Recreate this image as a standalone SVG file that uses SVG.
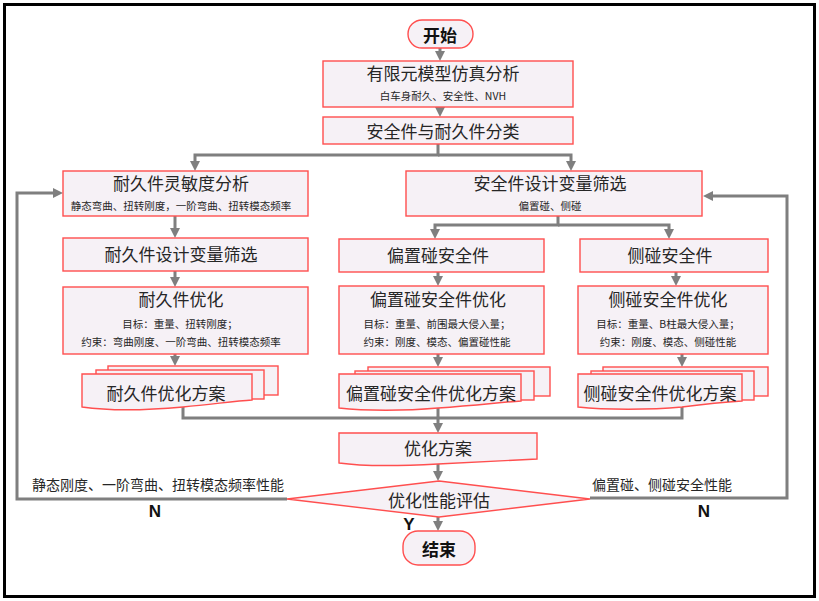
<svg xmlns="http://www.w3.org/2000/svg" width="819" height="601" viewBox="0 0 819 601">
<defs>
<marker id="ah" viewBox="0 0 10 10" refX="6" refY="5" markerWidth="10" markerHeight="10" markerUnits="userSpaceOnUse" orient="auto">
<path d="M0,0 L10,5 L0,10 Z" fill="#7F7F7F"/>
</marker>
<style>
.n{fill:#F6F1F6;stroke:#FF4F4F;stroke-width:1.4}
.c{fill:none;stroke:#7F7F7F;stroke-width:3}
.ca{fill:none;stroke:#7F7F7F;stroke-width:3;marker-end:url(#ah)}
text{font-family:"Noto Sans CJK SC","Liberation Sans",sans-serif;fill:#262626;text-anchor:middle;dominant-baseline:central}
.t{font-size:17px}
.s{font-size:10.5px}
.b{font-size:17px;font-weight:bold;fill:#111}
.l{font-size:14px;text-anchor:start}
.yn{font-family:"Liberation Sans",sans-serif;font-size:17px;font-weight:bold;fill:#111}
</style>
</defs>
<rect x="0" y="0" width="819" height="601" fill="#FFFFFF"/>
<rect x="4.5" y="4.5" width="810" height="592" fill="none" stroke="#000" stroke-width="3"/>

<g id="connectors">
<path class="ca" d="M440,48 V57"/>
<path class="ca" d="M440,107 V113"/>
<path class="ca" d="M438,144 V155 H195 V167"/>
<path class="ca" d="M438,155 H571 V167"/>
<path class="ca" d="M175,216 V234"/>
<path class="ca" d="M175,271 V283"/>
<path class="ca" d="M175,354 V362"/>
<path class="ca" d="M558,216 V225 H435 V235"/>
<path class="ca" d="M558,225 H669 V235"/>
<path class="ca" d="M438,272 V282"/>
<path class="ca" d="M676,272 V282"/>
<path class="ca" d="M438,354 V363"/>
<path class="ca" d="M682,354 V363"/>
<path class="c" d="M183,407 V418 H682 V407"/>
<path class="ca" d="M438,408 V429"/>
<path class="ca" d="M438,463 V477"/>
<path class="ca" d="M438,517 V527"/>
<path class="ca" d="M287,499 H17 V193 H59"/>
<path class="ca" d="M590,498 H787 V196 H707"/>
</g>

<g id="start">
<rect class="n" x="408" y="20" width="65" height="28" rx="14" ry="14" stroke-width="1.8"/>
<text class="b" x="440" y="34">开始</text>
</g>

<g id="fem">
<rect class="n" x="323" y="61" width="250" height="46"/>
<text class="t" x="443" y="72">有限元模型仿真分析</text>
<text class="s" x="443" y="95">白车身耐久、安全性、NVH</text>
</g>

<g id="classify">
<rect class="n" x="323" y="117" width="250" height="27" stroke="#F27A7A"/>
<text class="t" x="443" y="130">安全件与耐久件分类</text>
</g>

<g id="dur-sens">
<rect class="n" x="63" y="171" width="245" height="45"/>
<text class="t" x="181" y="182">耐久件灵敏度分析</text>
<text class="s" x="181" y="205">静态弯曲、扭转刚度，一阶弯曲、扭转模态频率</text>
</g>

<g id="safe-screen">
<rect class="n" x="406" y="171" width="296" height="45"/>
<text class="t" x="550" y="182">安全件设计变量筛选</text>
<text class="s" x="550" y="205">偏置碰、侧碰</text>
</g>

<g id="dur-screen">
<rect class="n" x="63" y="238" width="245" height="33"/>
<text class="t" x="181" y="253">耐久件设计变量筛选</text>
</g>

<g id="offset-parts">
<rect class="n" x="339" y="239" width="205" height="33"/>
<text class="t" x="438" y="254">偏置碰安全件</text>
</g>

<g id="side-parts">
<rect class="n" x="580" y="239" width="188" height="33"/>
<text class="t" x="670" y="254">侧碰安全件</text>
</g>

<g id="dur-opt">
<rect class="n" x="63" y="287" width="245" height="67"/>
<text class="t" x="181" y="298">耐久件优化</text>
<text class="s" x="180" y="323">目标：重量、扭转刚度；</text>
<text class="s" x="181" y="341">约束：弯曲刚度、一阶弯曲、扭转模态频率</text>
</g>

<g id="offset-opt">
<rect class="n" x="339" y="286" width="205" height="68"/>
<text class="t" x="438" y="298">偏置碰安全件优化</text>
<text class="s" x="437" y="323">目标：重量、前围最大侵入量；</text>
<text class="s" x="437" y="341">约束：刚度、模态、偏置碰性能</text>
</g>

<g id="side-opt">
<rect class="n" x="578" y="286" width="190" height="68"/>
<text class="t" x="668" y="298">侧碰安全件优化</text>
<text class="s" x="668" y="323">目标：重量、B柱最大侵入量；</text>
<text class="s" x="668" y="341">约束：刚度、模态、侧碰性能</text>
</g>

<g id="dur-plan">
<rect class="n" x="108" y="366" width="170" height="29"/>
<rect class="n" x="96" y="370" width="168" height="29"/>
<path class="n" d="M82,374 H252 V400 C235,401 215,404 183,407 C150,410 110,411 82,407 Z"/>
<text class="t" x="166" y="392">耐久件优化方案</text>
</g>

<g id="offset-plan">
<rect class="n" x="368" y="367" width="182" height="29"/>
<rect class="n" x="355" y="371" width="179" height="29"/>
<path class="n" d="M339,374 H521 V401 C503,402 480,405 438,408 C405,411 365,411 339,408 Z"/>
<text class="t" x="431" y="392">偏置碰安全件优化方案</text>
</g>

<g id="side-plan">
<rect class="n" x="603" y="367" width="165" height="29"/>
<rect class="n" x="591" y="371" width="163" height="29"/>
<path class="n" d="M578,374 H742 V401 C725,402 705,404 682,407 C650,410 605,410 578,407 Z"/>
<text class="t" x="660" y="392">侧碰安全件优化方案</text>
</g>

<g id="plan">
<path class="n" d="M339,433 H537 V459 C515,460 480,462 438,464 C400,466 360,466 339,463 Z"/>
<text class="t" x="438" y="447">优化方案</text>
</g>

<g id="evaluate">
<path class="n" d="M439,481 L590,499 L439,517 L287,499 Z"/>
<text class="t" x="439" y="499">优化性能评估</text>
</g>

<g id="end">
<rect class="n" x="403" y="531" width="72" height="34" rx="15" ry="15" stroke-width="1.8"/>
<text class="b" x="439" y="548">结束</text>
</g>

<g id="labels">
<text class="l" x="32" y="484">静态刚度、一阶弯曲、扭转模态频率性能</text>
<text class="l" x="592" y="484">偏置碰、侧碰安全性能</text>
<text class="yn" x="155" y="511">N</text>
<text class="yn" x="704" y="511">N</text>
<text class="yn" x="409" y="524">Y</text>
</g>
</svg>
